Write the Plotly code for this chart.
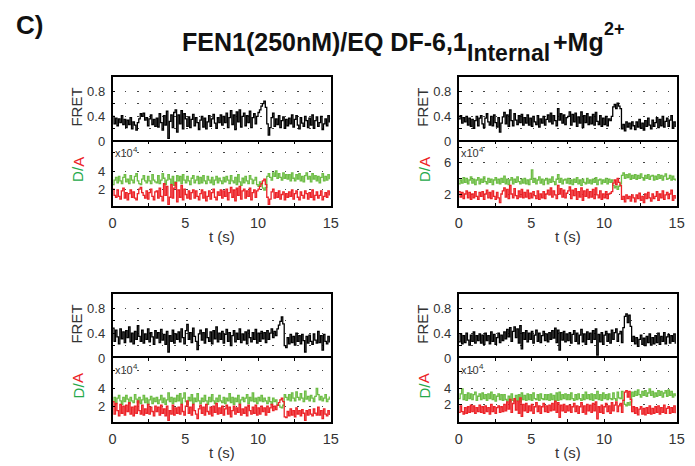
import plotly.graph_objects as go

# ---------------- data (time in s, FRET efficiency, intensities in x10^4) ----------------
t = [round(i * 0.1, 1) for i in range(150)]

p1_fret = [0.40,0.28,0.37,0.25,0.36,0.30,0.41,0.27,0.35,0.22,0.34,0.27,0.38,0.20,0.31,
           0.26,0.18,0.30,0.36,0.44,0.40,0.45,0.34,0.38,0.25,0.36,0.42,0.27,0.35,0.24,
           0.37,0.23,0.44,0.30,0.18,0.41,0.26,0.48,0.05,0.32,0.42,0.22,0.46,0.50,0.15,
           0.42,0.28,0.49,0.20,0.44,0.36,0.24,0.39,0.22,0.35,0.43,0.25,0.38,0.30,0.19,
           0.34,0.40,0.23,0.37,0.20,0.31,0.41,0.24,0.36,0.43,0.29,0.21,0.38,0.30,0.42,
           0.26,0.40,0.30,0.45,0.22,0.38,0.49,0.27,0.42,0.19,0.47,0.31,0.50,0.23,0.40,
           0.45,0.25,0.41,0.30,0.48,0.22,0.38,0.44,0.28,0.40,0.46,0.50,0.56,0.60,0.64,
           0.54,0.28,0.10,0.22,0.38,0.45,0.24,0.36,0.27,0.41,0.22,0.33,0.39,0.21,0.35,
           0.25,0.37,0.28,0.42,0.23,0.35,0.41,0.26,0.20,0.38,0.29,0.24,0.40,0.33,0.22,
           0.37,0.26,0.42,0.21,0.33,0.39,0.24,0.30,0.40,0.19,0.28,0.36,0.25,0.41,0.30]
p1_don = [2.5,3.0,3.3,2.7,3.4,2.9,2.6,3.3,3.6,2.8,3.1,2.6,3.5,3.0,2.7,
          3.4,3.7,2.9,2.6,2.5,3.1,3.5,2.9,2.7,3.4,2.9,2.6,3.6,3.0,2.8,
          2.7,3.5,2.6,3.0,3.7,3.2,2.5,3.0,3.6,3.1,2.6,3.4,2.4,2.8,3.5,
          2.9,3.4,2.6,3.6,3.0,2.7,3.4,2.9,2.5,3.2,3.5,2.7,3.0,3.4,2.6,
          3.3,2.7,3.5,2.9,2.6,3.4,3.0,2.7,3.3,2.5,3.0,3.4,2.7,3.2,2.9,
          2.6,3.3,2.8,3.4,3.0,2.6,3.5,2.9,2.7,3.3,2.5,3.6,2.8,2.4,3.2,
          2.7,3.4,2.9,2.6,3.5,3.1,2.6,3.0,3.3,2.5,2.3,2.8,2.5,2.1,1.9,
          2.2,3.4,3.7,3.3,3.0,3.8,3.4,4.0,3.2,3.7,3.3,3.0,3.8,3.2,3.6,
          3.1,3.6,2.9,3.8,3.2,2.9,3.6,3.1,3.7,2.9,3.4,2.8,3.5,3.8,3.1,
          3.4,2.8,3.7,3.1,3.5,2.9,3.4,2.7,3.3,3.7,2.9,3.4,3.0,3.6,3.1]
p1_acc = [2.0,1.3,1.1,1.9,1.2,0.9,1.8,2.1,1.0,1.6,0.8,1.5,1.9,1.1,1.7,
          1.0,0.8,1.5,2.0,2.2,1.6,1.3,1.0,1.8,0.9,1.6,2.0,1.2,0.8,1.7,
          1.8,1.0,2.1,1.2,0.7,2.6,1.3,2.3,0.3,1.1,2.5,1.0,2.1,2.7,0.6,
          1.9,1.1,2.4,0.8,2.0,1.4,1.0,1.8,0.9,1.6,1.9,1.0,1.8,1.2,0.8,
          1.5,1.9,1.0,1.7,0.7,1.2,1.8,0.9,1.6,2.0,1.1,0.8,1.7,1.3,1.9,
          1.0,1.8,1.2,2.0,0.8,1.6,2.2,1.1,1.9,0.7,2.1,1.3,2.3,0.9,1.8,
          2.0,1.0,1.8,1.2,2.1,0.8,1.6,1.9,1.1,1.8,2.0,2.3,2.6,2.9,3.1,
          2.5,1.1,0.3,0.9,1.7,2.0,1.0,1.6,1.1,1.8,0.9,1.4,1.7,0.8,1.5,
          1.1,1.7,1.2,1.9,0.9,1.5,1.8,1.1,0.8,1.7,1.3,1.0,1.8,1.5,0.9,
          1.6,1.1,1.9,0.8,1.3,1.7,1.0,1.3,1.8,0.8,1.2,1.6,1.1,1.8,1.3]

p2_fret = [0.36,0.41,0.29,0.38,0.31,0.40,0.26,0.37,0.24,0.35,0.21,0.33,0.40,0.25,0.37,
           0.41,0.28,0.22,0.37,0.44,0.31,0.26,0.40,0.25,0.42,0.30,0.23,0.38,0.15,0.29,
           0.39,0.46,0.28,0.42,0.24,0.50,0.33,0.25,0.44,0.34,0.27,0.41,0.30,0.43,0.26,
           0.38,0.29,0.42,0.26,0.37,0.24,0.40,0.31,0.27,0.41,0.23,0.36,0.29,0.40,0.26,
           0.35,0.42,0.31,0.45,0.28,0.41,0.33,0.25,0.52,0.34,0.44,0.29,0.42,0.27,0.38,
           0.40,0.47,0.26,0.43,0.31,0.45,0.24,0.39,0.29,0.47,0.22,0.41,0.30,0.44,0.27,
           0.39,0.28,0.43,0.26,0.46,0.32,0.27,0.41,0.24,0.37,0.27,0.40,0.25,0.36,0.33,
           0.40,0.55,0.59,0.52,0.61,0.56,0.52,0.20,0.27,0.17,0.31,0.23,0.29,0.20,0.31,
           0.25,0.19,0.31,0.23,0.35,0.21,0.29,0.18,0.33,0.24,0.37,0.26,0.20,0.34,0.24,
           0.30,0.38,0.22,0.35,0.25,0.40,0.23,0.32,0.37,0.24,0.34,0.41,0.21,0.31,0.23]
p2_don = [3.3,3.8,3.4,4.1,3.5,4.0,3.3,3.8,4.2,3.4,3.9,3.2,3.8,4.1,3.3,
          3.9,3.5,4.2,3.6,3.3,4.0,3.5,3.9,3.2,3.8,4.1,3.4,3.9,3.3,4.0,
          3.5,4.3,3.3,3.9,3.2,3.8,4.1,3.3,3.9,3.5,4.2,3.6,3.3,3.9,3.4,
          4.0,3.3,3.8,3.2,3.9,5.1,3.5,4.0,3.3,3.8,4.2,3.4,3.9,3.2,3.8,
          4.0,3.3,3.9,3.5,4.2,3.6,3.2,3.9,4.5,3.5,4.0,3.3,3.8,3.9,3.4,
          4.0,3.3,3.8,3.2,3.9,3.5,4.1,3.3,3.8,3.1,3.9,3.5,3.3,4.0,3.4,
          3.8,3.3,3.9,3.5,4.1,3.2,3.8,3.9,3.3,3.8,3.5,4.0,3.3,3.9,3.5,
          3.8,3.1,2.8,3.0,2.6,3.0,3.3,4.4,4.7,4.0,4.5,4.1,4.6,3.9,4.4,
          4.0,4.5,3.9,4.4,4.0,4.6,4.1,3.8,4.4,4.0,4.5,3.9,4.3,4.4,3.8,
          4.3,3.9,4.5,4.0,4.4,3.8,4.3,4.6,3.9,4.0,4.4,3.8,4.3,3.9,3.7]
p2_acc = [2.3,1.6,2.2,1.4,2.0,2.4,1.5,2.2,1.3,2.0,1.5,2.3,1.7,1.3,2.2,
          1.7,2.3,1.3,2.0,2.5,1.5,2.2,1.4,2.4,1.7,1.3,2.2,1.5,0.9,2.0,
          2.4,2.8,1.6,2.6,1.4,3.1,2.0,1.5,2.7,1.8,1.4,2.4,1.6,2.6,1.5,
          2.2,1.6,2.5,1.4,2.1,1.5,2.3,1.8,1.4,2.4,1.3,2.0,1.5,2.3,1.4,
          2.0,2.5,1.9,2.8,1.6,2.4,1.9,1.4,3.1,2.0,2.7,1.6,2.5,1.5,2.1,
          2.4,2.9,1.4,2.5,1.8,2.7,1.3,2.3,1.6,2.8,1.2,2.4,1.7,2.6,1.5,
          2.3,1.6,2.6,1.4,2.8,1.9,1.5,2.4,1.3,2.0,1.5,2.3,1.4,2.0,2.1,
          2.3,3.4,3.8,3.2,4.0,3.5,3.1,1.3,1.7,1.0,1.9,1.4,1.7,1.1,1.9,
          1.5,1.0,1.9,1.4,2.1,1.2,1.7,0.9,2.0,1.4,2.2,1.5,1.1,2.0,1.4,
          1.7,2.3,1.2,2.0,1.5,2.4,1.3,1.9,2.2,1.4,2.0,2.5,1.2,1.8,1.4]

p3_fret = [0.48,0.27,0.45,0.34,0.23,0.47,0.31,0.42,0.25,0.44,0.33,0.50,0.26,0.40,0.23,
           0.43,0.30,0.52,0.35,0.27,0.45,0.24,0.39,0.30,0.47,0.26,0.41,0.34,0.22,0.44,
           0.32,0.41,0.25,0.46,0.29,0.38,0.22,0.43,0.10,0.36,0.27,0.45,0.24,0.39,0.30,
           0.42,0.26,0.47,0.33,0.23,0.44,0.54,0.30,0.41,0.25,0.48,0.35,0.27,0.14,0.39,
           0.45,0.29,0.41,0.24,0.47,0.33,0.27,0.42,0.23,0.44,0.31,0.50,0.26,0.40,0.30,
           0.43,0.24,0.38,0.46,0.27,0.41,0.20,0.36,0.44,0.26,0.40,0.30,0.47,0.25,0.39,
           0.29,0.42,0.23,0.45,0.33,0.26,0.41,0.30,0.46,0.24,0.40,0.27,0.43,0.31,0.41,
           0.25,0.44,0.30,0.40,0.47,0.33,0.43,0.36,0.47,0.53,0.59,0.66,0.55,0.20,0.17,
           0.33,0.23,0.38,0.25,0.35,0.21,0.40,0.27,0.36,0.23,0.38,0.28,0.10,0.35,0.24,
           0.37,0.27,0.22,0.39,0.29,0.24,0.43,0.25,0.36,0.13,0.38,0.27,0.23,0.35,0.25]
p3_don = [2.5,3.0,2.3,2.9,3.2,2.6,2.2,3.0,2.5,3.2,2.8,2.3,3.0,2.6,2.4,
          3.3,2.8,2.4,3.0,2.3,2.7,3.2,2.4,2.9,2.2,2.7,3.1,2.3,2.9,2.5,
          3.0,2.3,2.7,3.2,2.4,2.9,2.2,2.7,3.5,2.5,3.0,2.3,2.9,2.5,3.2,
          2.6,3.4,2.3,2.9,3.5,2.5,2.2,3.0,2.6,3.3,2.3,2.9,2.5,3.4,2.6,
          2.3,2.9,2.5,3.2,2.6,2.2,3.0,2.5,3.3,2.6,2.3,2.9,2.5,3.2,2.6,
          2.4,3.0,2.3,2.9,2.6,3.4,2.4,3.0,2.2,2.9,2.5,3.2,2.3,2.7,3.0,
          2.5,2.9,3.3,2.3,3.0,2.6,3.5,2.5,2.9,2.3,3.0,2.6,3.2,2.5,2.9,
          2.6,2.3,3.0,2.5,2.2,2.9,2.5,2.7,2.2,2.1,1.9,1.8,2.1,3.3,3.0,
          2.7,3.3,2.6,3.5,2.9,2.6,3.6,3.0,2.7,3.4,2.9,2.5,3.7,2.8,3.1,
          2.6,3.2,2.9,2.5,3.1,4.0,3.3,2.7,3.1,2.6,2.9,3.3,2.5,2.8,3.1]
p3_acc = [2.5,1.1,2.3,1.5,0.9,2.2,1.2,2.0,1.0,2.1,1.4,2.4,1.1,1.9,0.9,
          2.0,1.2,2.6,1.5,1.1,2.1,1.0,1.7,1.2,2.2,1.1,1.9,1.4,0.9,2.0,
          1.4,1.9,1.0,2.1,1.2,1.7,0.9,2.0,0.4,1.5,1.1,2.1,1.0,1.8,1.2,
          1.9,1.1,2.2,1.4,1.0,2.0,2.6,1.2,1.9,1.0,2.2,1.5,1.1,0.6,1.7,
          2.1,1.2,1.9,1.0,2.2,1.4,1.1,1.9,0.9,2.0,1.3,2.3,1.1,1.8,1.2,
          2.0,1.0,1.7,2.1,1.1,1.9,0.8,1.5,2.0,1.1,1.8,1.3,2.2,1.0,1.7,
          1.2,1.9,0.9,2.1,1.5,1.1,1.9,1.2,2.1,1.0,1.8,1.1,2.0,1.4,1.8,
          1.0,2.0,1.3,1.8,2.2,1.5,2.0,1.6,2.1,2.4,2.7,2.9,2.5,0.8,0.7,
          1.4,0.9,1.7,1.0,1.5,0.8,1.8,1.1,1.5,0.9,1.6,1.2,0.4,1.5,1.0,
          1.6,1.1,0.9,1.7,1.2,1.0,1.9,1.0,1.5,0.6,1.7,1.1,0.9,1.5,1.0]

p4_fret = [0.26,0.39,0.23,0.36,0.25,0.40,0.29,0.21,0.37,0.27,0.42,0.24,0.36,0.28,0.39,
           0.24,0.37,0.22,0.40,0.28,0.36,0.23,0.42,0.27,0.38,0.22,0.33,0.40,0.25,0.37,
           0.28,0.42,0.31,0.46,0.34,0.49,0.27,0.43,0.50,0.33,0.47,0.24,0.52,0.15,0.41,
           0.30,0.44,0.26,0.40,0.30,0.43,0.24,0.37,0.45,0.27,0.40,0.25,0.36,0.43,0.28,
           0.39,0.26,0.41,0.30,0.44,0.32,0.48,0.25,0.45,0.13,0.41,0.29,0.43,0.26,0.39,
           0.28,0.41,0.24,0.38,0.44,0.27,0.40,0.23,0.37,0.46,0.26,0.39,0.22,0.42,0.30,
           0.40,0.25,0.44,0.30,0.47,0.05,0.38,0.26,0.41,0.22,0.37,0.43,0.27,0.39,0.24,
           0.45,0.30,0.41,0.47,0.27,0.39,0.43,0.25,0.49,0.67,0.71,0.57,0.69,0.51,0.27,
           0.35,0.23,0.33,0.19,0.30,0.37,0.22,0.32,0.20,0.35,0.25,0.39,0.21,0.33,0.23,
           0.36,0.25,0.40,0.22,0.35,0.27,0.41,0.23,0.34,0.38,0.24,0.36,0.27,0.39,0.23]
p4_don = [2.7,3.3,3.9,2.6,3.2,2.5,3.4,2.7,3.3,2.6,3.2,3.5,2.5,3.0,3.3,
          2.6,3.4,2.7,3.2,2.5,3.3,2.7,3.5,2.6,3.2,2.4,3.0,3.3,2.6,3.2,
          2.5,3.2,2.6,2.4,3.0,2.3,3.3,2.5,2.4,3.1,2.5,3.2,2.3,3.4,2.6,
          3.1,2.5,3.3,2.6,3.2,2.5,3.4,2.7,2.6,3.2,2.5,3.3,2.7,2.6,3.2,
          2.6,3.2,2.5,3.3,2.6,3.1,2.4,3.4,2.5,3.5,2.6,3.2,2.7,3.3,2.6,
          3.2,2.6,3.4,2.7,2.5,3.2,2.6,3.3,2.7,2.5,3.2,2.6,3.5,2.7,3.2,
          2.6,3.3,2.5,3.2,2.7,3.6,2.6,3.2,2.5,3.4,2.7,3.2,2.6,3.3,2.7,
          2.6,3.4,2.7,2.5,3.5,2.8,2.7,3.6,2.5,2.0,1.8,2.2,1.9,2.3,3.5,
          3.0,3.6,3.1,3.8,3.2,2.9,3.6,3.1,3.7,3.0,3.4,3.9,3.1,3.6,2.9,
          3.4,3.0,3.7,3.1,3.6,2.9,3.4,3.7,3.0,3.8,3.1,3.6,2.9,3.3,3.0]
p4_acc = [1.0,1.8,1.1,0.8,1.6,0.9,1.7,1.0,1.9,1.1,1.8,0.9,1.6,1.1,1.9,
          1.0,1.7,0.9,1.8,1.1,1.6,0.8,2.0,1.1,1.7,0.9,1.6,1.8,1.0,1.7,
          1.1,2.0,1.2,2.3,1.4,2.6,1.0,2.1,2.7,1.3,2.4,0.9,2.8,0.5,2.0,
          1.2,2.1,1.0,1.8,1.2,2.0,0.9,1.7,2.2,1.1,1.8,0.9,1.7,2.1,1.1,
          1.8,1.0,1.9,1.2,2.1,1.3,2.4,1.0,2.2,0.4,1.9,1.2,2.0,1.0,1.8,
          1.2,1.9,1.0,1.7,2.1,1.1,1.8,0.9,1.7,2.2,1.0,1.8,0.8,2.0,1.2,
          1.9,1.0,2.1,1.2,2.3,0.2,1.7,1.0,1.9,0.9,1.7,2.1,1.1,1.8,0.9,
          2.2,1.2,1.9,2.3,1.1,1.8,2.1,1.0,2.5,3.5,3.7,2.9,3.6,2.6,1.1,
          1.7,0.9,1.6,0.7,1.4,1.7,0.8,1.5,0.7,1.6,0.9,1.8,0.8,1.5,0.9,
          1.7,1.0,1.8,0.8,1.6,1.0,1.9,0.9,1.5,1.7,0.9,1.6,1.0,1.8,0.9]

x_tickvals = [0, 5, 10, 15]
x_ticktext = ["0", "5", "10", "15"]
x_minorvals = [2.5, 7.5, 12.5]
fret_tickvals = [0, 0.4, 0.8]
fret_ticktext = ["0", "0.4", "0.8"]
fret_minorvals = [0.2, 0.6]
title_main = "FEN1(250nM)/EQ DF-6,1"
title_sub = "Internal"
title_mid = "+Mg"
title_sup = "2+"

# ---------------- layout geometry (pixels) ----------------
W, H = 695, 466
FONT = "Liberation Sans, Arial, Helvetica, sans-serif"
GREEN = "#6dbd45"
RED = "#ec2227"
LABEL_GREEN = "#25a94a"
GRID = "#444444"
TICKC = "#333333"
DASH = "1.5px,10.8px"


def px(x):
    return x / W


def py(y):
    return 1 - y / H


panels = [
    dict(x0=110.5, x1=332.5, top=78.5, mid=144, bot=209.5,
         fret=p1_fret, don=p1_don, acc=p1_acc,
         rng=[0.14, 7.26], tv=[2, 4], mv=[6]),
    dict(x0=462.7, x1=684.5, top=78.5, mid=144, bot=209.5,
         fret=p2_fret, don=p2_don, acc=p2_acc,
         rng=[0.47, 8.75], tv=[2, 6], mv=[4, 8]),
    dict(x0=110.5, x1=332.5, top=299.5, mid=364.5, bot=429.5,
         fret=p3_fret, don=p3_don, acc=p3_acc,
         rng=[0.2, 7.4], tv=[2, 4], mv=[6]),
    dict(x0=462.7, x1=684.5, top=299.5, mid=364.5, bot=429.5,
         fret=p4_fret, don=p4_don, acc=p4_acc,
         rng=[-0.2, 7.7], tv=[2, 4], mv=[6]),
]

fig = go.Figure()
layout = dict(
    width=W, height=H, margin=dict(l=0, r=0, t=0, b=0),
    paper_bgcolor="white", plot_bgcolor="white", showlegend=False,
    font=dict(family=FONT, color=TICKC),
)
annotations = []

for k, p in enumerate(panels):
    a_f = 2 * k + 1
    a_d = 2 * k + 2
    xd = [px(p["x0"]), px(p["x1"])]
    common_y = dict(showline=True, mirror=True, linecolor="black", linewidth=1.6,
                    zeroline=False, showgrid=True, gridcolor=GRID, gridwidth=1,
                    griddash=DASH, ticks="inside", ticklen=3, tickcolor="black",
                    tickfont=dict(size=13, color=TICKC, family=FONT), ticklabelstandoff=3)
    # FRET axes (bottom edge is drawn by the D/A axis below it)
    layout[f"xaxis{a_f}"] = dict(domain=xd, range=[0, 15], anchor=f"y{a_f}", side="top",
                                 showline=True, mirror=False, linecolor="black", linewidth=1.6,
                                 showgrid=False, zeroline=False, showticklabels=False,
                                 ticks="")
    layout[f"yaxis{a_f}"] = dict(domain=[py(p["mid"]), py(p["top"])], range=[0, 1.02],
                                 anchor=f"x{a_f}", tickmode="array", tickvals=fret_tickvals,
                                 ticktext=fret_ticktext,
                                 minor=dict(tickmode="array", tickvals=fret_minorvals,
                                            showgrid=True, gridcolor=GRID, gridwidth=1,
                                            griddash=DASH, ticks="inside", ticklen=3,
                                            tickcolor="black"),
                                 **common_y)
    # D/A axes
    layout[f"xaxis{a_d}"] = dict(domain=xd, range=[0, 15], anchor=f"y{a_d}",
                                 showline=True, mirror="ticks", linecolor="black", linewidth=1.6,
                                 showgrid=False, zeroline=False, ticks="inside", ticklen=3,
                                 tickcolor="black", tickmode="array", tickvals=x_tickvals,
                                 ticktext=x_ticktext,
                                 minor=dict(tickmode="array", tickvals=x_minorvals,
                                            ticks="inside", ticklen=3, tickcolor="black",
                                            showgrid=False),
                                 tickfont=dict(size=14.5, color=TICKC, family=FONT),
                                 ticklabelstandoff=3)
    layout[f"yaxis{a_d}"] = dict(domain=[py(p["bot"]), py(p["mid"])], range=p["rng"],
                                 anchor=f"x{a_d}", tickmode="array", tickvals=p["tv"],
                                 ticktext=[str(v) for v in p["tv"]],
                                 minor=dict(tickmode="array", tickvals=p["mv"],
                                            showgrid=True, gridcolor=GRID, gridwidth=1,
                                            griddash=DASH, ticks="inside", ticklen=3,
                                            tickcolor="black"),
                                 **common_y)

    fig.add_trace(go.Scatter(x=t, y=p["fret"], mode="lines", line_shape="hv",
                             line=dict(color="black", width=1.3),
                             xaxis=f"x{a_f}", yaxis=f"y{a_f}"))
    fig.add_trace(go.Scatter(x=t, y=p["don"], mode="lines", line_shape="hv",
                             line=dict(color=GREEN, width=1.3),
                             xaxis=f"x{a_d}", yaxis=f"y{a_d}"))
    fig.add_trace(go.Scatter(x=t, y=p["acc"], mode="lines", line_shape="hv",
                             line=dict(color=RED, width=1.3),
                             xaxis=f"x{a_d}", yaxis=f"y{a_d}"))

    cx = (p["x0"] + p["x1"]) / 2
    da_c = (p["mid"] + p["bot"]) / 2 - 5
    annotations += [
        dict(x=px(p["x0"] - 37), y=py((p["top"] + p["mid"]) / 2 - 2), xref="paper", yref="paper",
             text="FRET", textangle=-90, showarrow=False, xanchor="center", yanchor="middle",
             font=dict(size=15, color=TICKC, family=FONT)),
        dict(x=px(p["x0"] - 35), y=py(da_c + 5), xref="paper", yref="paper",
             text="D/", textangle=-90, showarrow=False, xanchor="center", yanchor="middle",
             borderpad=0, font=dict(size=15, color=LABEL_GREEN, family=FONT)),
        dict(x=px(p["x0"] - 35), y=py(da_c - 7.5), xref="paper", yref="paper",
             text="A", textangle=-90, showarrow=False, xanchor="center", yanchor="middle",
             borderpad=0, font=dict(size=15, color=RED, family=FONT)),
        dict(x=px(p["x0"] + 1), y=py(p["mid"] + 12), xref="paper", yref="paper",
             text="x10", showarrow=False, xanchor="left", yanchor="middle", borderpad=0,
             font=dict(size=11, color=TICKC, family=FONT)),
        dict(x=px(p["x0"] + 19.5), y=py(p["mid"] + 8), xref="paper", yref="paper",
             text="4", showarrow=False, xanchor="left", yanchor="middle", borderpad=0,
             font=dict(size=8, color=TICKC, family=FONT)),
        dict(x=px(cx), y=py(p["bot"] + 31), xref="paper", yref="paper",
             text="t (s)", showarrow=False, xanchor="center", yanchor="middle",
             font=dict(size=15, color=TICKC, family=FONT)),
    ]

# panel letter and title
annotations += [
    dict(x=px(10), y=py(25), xref="paper", yref="paper", text="<b>C)</b>",
         showarrow=False, xanchor="left", yanchor="middle",
         font=dict(size=26, color="#111111", family=FONT)),
    dict(x=px(472), y=py(43), xref="paper", yref="paper", text=f"<b>{title_main}</b>",
         showarrow=False, xanchor="right", yanchor="middle", borderpad=0,
         font=dict(size=25, color="#111111", family=FONT)),
    dict(x=px(470), y=py(54), xref="paper", yref="paper", text=f"<b>{title_sub}</b>",
         showarrow=False, xanchor="left", yanchor="middle", borderpad=0,
         font=dict(size=23, color="#111111", family=FONT)),
    dict(x=px(558), y=py(43), xref="paper", yref="paper", text=f"<b>{title_mid}</b>",
         showarrow=False, xanchor="left", yanchor="middle", borderpad=0,
         font=dict(size=25, color="#111111", family=FONT)),
    dict(x=px(610), y=py(30), xref="paper", yref="paper", text=f"<b>{title_sup}</b>",
         showarrow=False, xanchor="left", yanchor="middle", borderpad=0,
         font=dict(size=18, color="#111111", family=FONT)),
]
layout["annotations"] = annotations
fig.update_layout(**layout)
fig.write_html("out.html", config={"displayModeBar": False},
               post_script="document.body.style.margin='0px';")
